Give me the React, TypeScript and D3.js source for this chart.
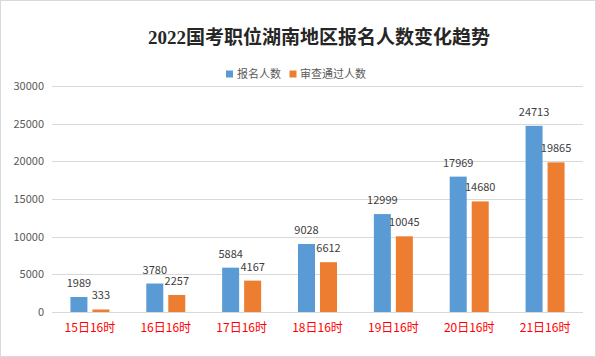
import React from "react";
import * as d3 from "d3";

const categories = ["15日16时", "16日16时", "17日16时", "18日16时", "19日16时", "20日16时", "21日16时"];
const seriesNames = ["报名人数", "审查通过人数"];
const applicants = [1989, 3780, 5884, 9028, 12999, 17969, 24713];
const approved = [333, 2257, 4167, 6612, 10045, 14680, 19865];
const yTicks = [0, 5000, 10000, 15000, 20000, 25000, 30000];
const colors = ["#5b9bd5", "#ed7d31"];

const W = 596;
const H = 357;
const left = 52;
const right = 583;
const top = 86;
const bottom = 312;

export default function App() {
  const x0 = d3.scaleBand<string>().domain(categories).range([left, right]).paddingInner(0).paddingOuter(0);
  const x1 = d3.scaleBand<string>().domain(seriesNames).range([0, 39]).paddingInner(5 / 22).paddingOuter(0);
  const y = d3.scaleLinear().domain([0, 30000]).range([bottom, top]);
  const seriesData = [applicants, approved];
  const sans = "'Microsoft YaHei', 'Noto Sans CJK SC', sans-serif";

  return (
    <svg width={W} height={H} style={{ position: "absolute", left: 0, top: 0, background: "#fff" }}>
      <rect x={0.5} y={0.5} width={W - 1} height={H - 1} fill="#fff" stroke="#d9d9d9" />
      <text
        x={319}
        y={44}
        textAnchor="middle"
        fontFamily="'Liberation Serif', 'Noto Sans CJK SC', serif"
        fontWeight="bold"
        fontSize={19}
        fill="#262626"
      >
        2022国考职位湖南地区报名人数变化趋势
      </text>
      {/* legend */}
      <g fontFamily={sans} fontSize={11} fill="#595959">
        <rect x={226} y={70.5} width={7} height={7} fill={colors[0]} />
        <text x={237} y={78}>{seriesNames[0]}</text>
        <rect x={289.5} y={70.5} width={7} height={7} fill={colors[1]} />
        <text x={300} y={78}>{seriesNames[1]}</text>
      </g>
      {/* grid */}
      {yTicks.map((t) => (
        <g key={t}>
          <line x1={left} x2={right} y1={Math.round(y(t)) + 0.5} y2={Math.round(y(t)) + 0.5} stroke="#d9d9d9" strokeWidth={1} />
          <text x={44} y={y(t) + 4} textAnchor="end" fontFamily={sans} fontSize={11} fill="#595959">
            {t}
          </text>
        </g>
      ))}
      {/* bars */}
      {categories.map((c, i) => {
        const gx = (x0(c) as number) + x0.bandwidth() / 2 - 19.5;
        return (
          <g key={c}>
            {seriesNames.map((s, j) => {
              const v = seriesData[j][i];
              const bx = gx + (x1(s) as number);
              const by = y(v);
              return (
                <g key={s}>
                  <rect x={bx} y={by} width={x1.bandwidth()} height={bottom - by} fill={colors[j]} />
                  <text
                    x={bx + x1.bandwidth() / 2}
                    y={by - 10}
                    textAnchor="middle"
                    fontFamily={sans}
                    fontSize={11}
                    fill="#404040"
                  >
                    {v}
                  </text>
                </g>
              );
            })}
            <text
              x={(x0(c) as number) + x0.bandwidth() / 2}
              y={332}
              textAnchor="middle"
              fontFamily={sans}
              fontSize={12}
              fill="#ff0000"
            >
              {c}
            </text>
          </g>
        );
      })}
    </svg>
  );
}
